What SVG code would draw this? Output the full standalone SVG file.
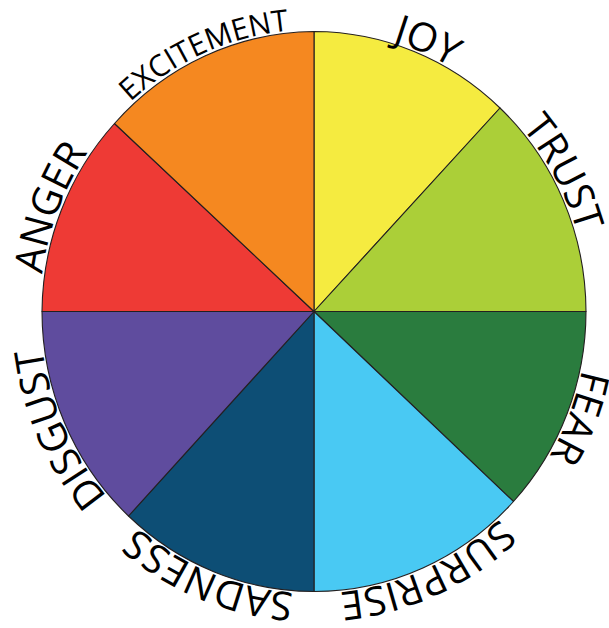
<svg xmlns="http://www.w3.org/2000/svg" xmlns:xlink="http://www.w3.org/1999/xlink" width="609" height="628" viewBox="0 0 609 628">
  <style>
    .w { stroke: #231f20; stroke-width: 1.1; stroke-linejoin: round; }
    .lbl { font-family: "Open Sans", "Liberation Sans", sans-serif; font-size: 40px; fill: #000; text-anchor: middle; }
  </style>
  <defs>
    <path id="ring" d="M314 29.5 A274 282 0 0 1 314 593.5 A274 282 0 0 1 314 29.5"/>
  </defs>
  <rect width="609" height="628" fill="#ffffff"/>
  <g id="joy">
    <path class="w" fill="#F5EB40" d="M314 311.5 L314 31.5 A272 280 0 0 1 500 108 Z"/>
    <text class="lbl"><textPath href="#ring" xlink:href="#ring" startOffset="6.4%">JOY</textPath></text>
  </g>
  <g id="trust">
    <path class="w" fill="#ABCF38" d="M314 311.5 L500 108 A272 280 0 0 1 586 311.5 Z"/>
    <text class="lbl"><textPath href="#ring" xlink:href="#ring" startOffset="17%">TRUST</textPath></text>
  </g>
  <g id="fear">
    <path class="w" fill="#2A7C3E" d="M314 311.5 L586 311.5 A272 280 0 0 1 513.5 501.5 Z"/>
    <text class="lbl"><textPath href="#ring" xlink:href="#ring" startOffset="31%">FEAR</textPath></text>
  </g>
  <g id="surprise">
    <path class="w" fill="#49C9F3" d="M314 311.5 L513.5 501.5 A272 280 0 0 1 314 591.5 Z"/>
    <text class="lbl"><textPath href="#ring" xlink:href="#ring" startOffset="43.4%">SURPRISE</textPath></text>
  </g>
  <g id="sadness">
    <path class="w" fill="#0D4E75" d="M314 311.5 L314 591.5 A272 280 0 0 1 128.5 516 Z"/>
    <text class="lbl"><textPath href="#ring" xlink:href="#ring" startOffset="56.1%">SADNESS</textPath></text>
  </g>
  <g id="disgust">
    <path class="w" fill="#5F4C9E" d="M314 311.5 L128.5 516 A272 280 0 0 1 42 311.5 Z"/>
    <text class="lbl"><textPath href="#ring" xlink:href="#ring" startOffset="68.2%">DISGUST</textPath></text>
  </g>
  <g id="anger">
    <path class="w" fill="#EE3A35" d="M314 311.5 L42 311.5 A272 280 0 0 1 114.5 123.5 Z"/>
    <text class="lbl"><textPath href="#ring" xlink:href="#ring" startOffset="80.9%">ANGER</textPath></text>
  </g>
  <g id="excitement">
    <path class="w" fill="#F58820" d="M314 311.5 L114.5 123.5 A272 280 0 0 1 314 31.5 Z"/>
    <text class="lbl" style="font-size:30px"><textPath href="#ring" xlink:href="#ring" startOffset="93.5%">EXCITEMENT</textPath></text>
  </g>
  <g id="connectors"/>
</svg>
